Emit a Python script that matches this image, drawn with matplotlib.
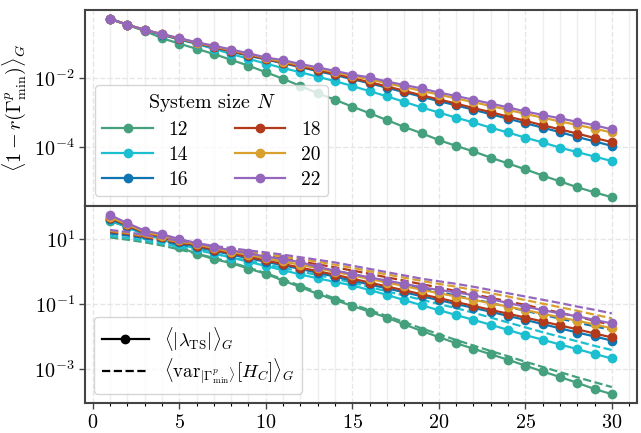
import numpy as np
import matplotlib
matplotlib.use("Agg")
import matplotlib.pyplot as plt
from matplotlib.ticker import MultipleLocator, NullLocator

plt.rcParams['font.family'] = 'serif'
plt.rcParams['font.serif'] = ['cmr10']
plt.rcParams['mathtext.fontset'] = 'cm'
plt.rcParams['axes.formatter.use_mathtext'] = True

# circuit depth p
depth = np.arange(1, 31)
sizes = [12, 14, 16, 18, 20, 22]
colors = ['#45a07d', '#1bbfcf', '#0f75b0', '#b2391b', '#d9a02e', '#9467bd']

# log10 of <1 - r(Gamma_min^p)>_G
infid_12 = [-0.28, -0.46, -0.63, -0.84, -1.0, -1.15, -1.3, -1.47, -1.64, -1.83,
            -2.02, -2.23, -2.44, -2.63, -2.83, -3.02, -3.22, -3.42, -3.6, -3.8,
            -3.97, -4.13, -4.31, -4.48, -4.65, -4.83, -5.0, -5.17, -5.32, -5.46]
infid_14 = [-0.28, -0.45, -0.61, -0.74, -0.88, -1.01, -1.15, -1.3, -1.44, -1.58,
            -1.71, -1.83, -1.96, -2.09, -2.23, -2.38, -2.53, -2.69, -2.85, -3.0,
            -3.15, -3.29, -3.44, -3.58, -3.73, -3.87, -4.02, -4.15, -4.28, -4.41]
infid_16 = [-0.28, -0.45, -0.6, -0.74, -0.87, -0.99, -1.11, -1.23, -1.35, -1.46,
            -1.57, -1.68, -1.8, -1.91, -2.03, -2.15, -2.28, -2.41, -2.54, -2.67,
            -2.79, -2.92, -3.05, -3.18, -3.31, -3.44, -3.57, -3.71, -3.84, -3.97]
infid_18 = [-0.28, -0.45, -0.6, -0.73, -0.86, -0.98, -1.1, -1.22, -1.33, -1.44,
            -1.55, -1.66, -1.77, -1.88, -2.0, -2.12, -2.24, -2.37, -2.5, -2.62,
            -2.74, -2.87, -2.99, -3.12, -3.24, -3.37, -3.49, -3.61, -3.74, -3.86]
infid_20 = [-0.28, -0.45, -0.6, -0.72, -0.85, -0.97, -1.08, -1.19, -1.3, -1.42,
            -1.52, -1.62, -1.72, -1.83, -1.94, -2.04, -2.15, -2.26, -2.37, -2.48,
            -2.59, -2.7, -2.81, -2.92, -3.04, -3.15, -3.26, -3.36, -3.47, -3.58]
infid_22 = [-0.28, -0.45, -0.6, -0.72, -0.84, -0.96, -1.06, -1.17, -1.28, -1.4,
            -1.48, -1.59, -1.69, -1.79, -1.9, -1.98, -2.1, -2.2, -2.3, -2.42,
            -2.52, -2.63, -2.74, -2.85, -2.97, -3.07, -3.17, -3.27, -3.37, -3.49]

# log10 of <|lambda_TS|>_G
lam_12 = [1.55, 1.38, 1.18, 1.02, 0.75, 0.55, 0.38, 0.26, 0.09, -0.07,
          -0.28, -0.48, -0.69, -0.88, -1.06, -1.24, -1.42, -1.63, -1.83, -2.02,
          -2.21, -2.38, -2.55, -2.72, -2.9, -3.08, -3.25, -3.43, -3.62, -3.78]
lam_14 = [1.58, 1.36, 1.13, 1.0, 0.85, 0.7, 0.56, 0.43, 0.3, 0.17,
          0.04, -0.09, -0.21, -0.32, -0.43, -0.57, -0.72, -0.88, -1.04, -1.19,
          -1.34, -1.49, -1.64, -1.8, -1.96, -2.1, -2.25, -2.39, -2.54, -2.68]
lam_16 = [1.62, 1.4, 1.17, 1.05, 0.9, 0.77, 0.64, 0.52, 0.41, 0.3,
          0.19, 0.08, -0.04, -0.16, -0.28, -0.4, -0.52, -0.64, -0.76, -0.88,
          -1.0, -1.12, -1.24, -1.37, -1.49, -1.62, -1.75, -1.88, -2.0, -2.13]
lam_18 = [1.65, 1.42, 1.19, 1.07, 0.93, 0.8, 0.67, 0.56, 0.45, 0.34,
          0.23, 0.12, 0.01, -0.1, -0.22, -0.34, -0.46, -0.58, -0.7, -0.82,
          -0.94, -1.06, -1.18, -1.3, -1.42, -1.54, -1.66, -1.78, -1.91, -2.03]
lam_20 = [1.68, 1.45, 1.22, 1.1, 0.96, 0.84, 0.72, 0.61, 0.51, 0.41,
          0.31, 0.21, 0.1, -0.01, -0.12, -0.23, -0.34, -0.45, -0.56, -0.67,
          -0.77, -0.87, -0.98, -1.08, -1.19, -1.3, -1.41, -1.52, -1.63, -1.75]
lam_22 = [1.74, 1.49, 1.26, 1.15, 1.0, 0.88, 0.76, 0.65, 0.56, 0.46,
          0.38, 0.29, 0.14, 0.03, -0.08, -0.18, -0.28, -0.38, -0.48, -0.57,
          -0.64, -0.73, -0.85, -0.97, -1.08, -1.19, -1.29, -1.38, -1.49, -1.6]

# log10 of <var[H_C]>_G
var_12 = [1.05, 0.98, 0.9, 0.8, 0.68, 0.55, 0.42, 0.28, 0.12, -0.05,
          -0.24, -0.44, -0.64, -0.83, -1.01, -1.19, -1.37, -1.56, -1.75, -1.93,
          -2.11, -2.28, -2.45, -2.61, -2.78, -2.94, -3.1, -3.26, -3.41, -3.56]
var_14 = [1.1, 1.04, 0.95, 0.86, 0.76, 0.66, 0.55, 0.44, 0.33, 0.22,
          0.11, 0.0, -0.11, -0.22, -0.34, -0.48, -0.61, -0.74, -0.87, -1.0,
          -1.13, -1.27, -1.42, -1.57, -1.72, -1.87, -2.01, -2.15, -2.29, -2.42]
var_16 = [1.17, 1.11, 1.02, 0.93, 0.84, 0.75, 0.66, 0.57, 0.48, 0.4,
          0.31, 0.22, 0.12, 0.02, -0.08, -0.19, -0.3, -0.41, -0.52, -0.63,
          -0.74, -0.85, -0.97, -1.09, -1.21, -1.33, -1.45, -1.57, -1.69, -1.8]
var_18 = [1.22, 1.16, 1.06, 0.97, 0.89, 0.8, 0.72, 0.64, 0.56, 0.48,
          0.4, 0.31, 0.22, 0.13, 0.03, -0.07, -0.18, -0.28, -0.39, -0.49,
          -0.6, -0.7, -0.81, -0.92, -1.03, -1.15, -1.27, -1.39, -1.52, -1.65]
var_20 = [1.25, 1.19, 1.09, 1.0, 0.92, 0.84, 0.76, 0.68, 0.61, 0.54,
          0.46, 0.38, 0.3, 0.21, 0.11, 0.01, -0.09, -0.19, -0.29, -0.38,
          -0.47, -0.57, -0.67, -0.77, -0.88, -0.99, -1.1, -1.21, -1.33, -1.44]
var_22 = [1.28, 1.22, 1.12, 1.03, 0.95, 0.87, 0.79, 0.72, 0.65, 0.59,
          0.52, 0.44, 0.36, 0.28, 0.18, 0.08, -0.02, -0.12, -0.22, -0.3,
          -0.38, -0.47, -0.57, -0.67, -0.77, -0.87, -0.97, -1.08, -1.18, -1.29]

infid = [infid_12, infid_14, infid_16, infid_18, infid_20, infid_22]
lam = [lam_12, lam_14, lam_16, lam_18, lam_20, lam_22]
var = [var_12, var_14, var_16, var_18, var_20, var_22]

fig = plt.figure(figsize=(6.41, 4.33), dpi=100)
ax1 = fig.add_axes([0.1326, 0.524, 0.861, 0.453])
ax2 = fig.add_axes([0.1326, 0.069, 0.861, 0.455], sharex=ax1)

for ax in (ax1, ax2):
    ax.set_yscale('log')
    ax.xaxis.set_major_locator(MultipleLocator(5))
    ax.xaxis.set_minor_locator(MultipleLocator(1))
    ax.yaxis.set_minor_locator(NullLocator())
    ax.grid(which='major', ls='--', color='#e6e6e6', lw=1.0)
    ax.grid(which='minor', axis='x', ls='-', color='#eeeeee', lw=1.0)
    ax.set_axisbelow(True)
    for s in ax.spines.values():
        s.set_color('#444444')
        s.set_linewidth(1.5)
    ax.tick_params(labelsize=14.5, color='#444444')
    ax.tick_params(which='major', length=4, width=1.0)
    ax.tick_params(which='minor', length=2.5, width=0.8)

for i, N in enumerate(sizes):
    ax1.plot(depth, 10**np.array(infid[i]), '-o', color=colors[i], lw=1.6,
             ms=6, label=str(N))
    ax2.plot(depth, 10**np.array(lam[i]), '-o', color=colors[i], lw=1.6, ms=6)
    ax2.plot(depth, 10**np.array(var[i]), '--', color=colors[i], lw=1.6)

ax1.set_yticks([1e-2, 1e-4])
ax2.set_yticks([1e1, 1e-1, 1e-3])
ax1.tick_params(labelbottom=False)
ax1.set_ylabel(r'$\langle 1 - r(\Gamma^p_{\min})\rangle_G$', fontsize=14.5)

leg1 = ax1.legend(ncol=2, loc='lower left', fontsize=14, title=r'System size $N$',
                  title_fontsize=14.5, framealpha=0.8, edgecolor='#cccccc',
                  handlelength=2.6, columnspacing=2.4, borderaxespad=0.5,
                  labelspacing=0.35)

h1, = ax2.plot([], [], '-o', color='black', lw=1.6, ms=6)
h2, = ax2.plot([], [], '--', color='black', lw=1.6)
ax2.legend([h1, h2], [r'$\langle|\lambda_{\mathrm{TS}}|\rangle_G$',
                      r'$\langle\mathrm{var}_{|\Gamma^p_{\min}\rangle}[H_C]\rangle_G$'],
           loc='lower left', fontsize=13.5, framealpha=0.8, edgecolor='#cccccc',
           handlelength=2.5, borderaxespad=0.5, labelspacing=0.2)

fig.savefig('out.png', dpi=100)
